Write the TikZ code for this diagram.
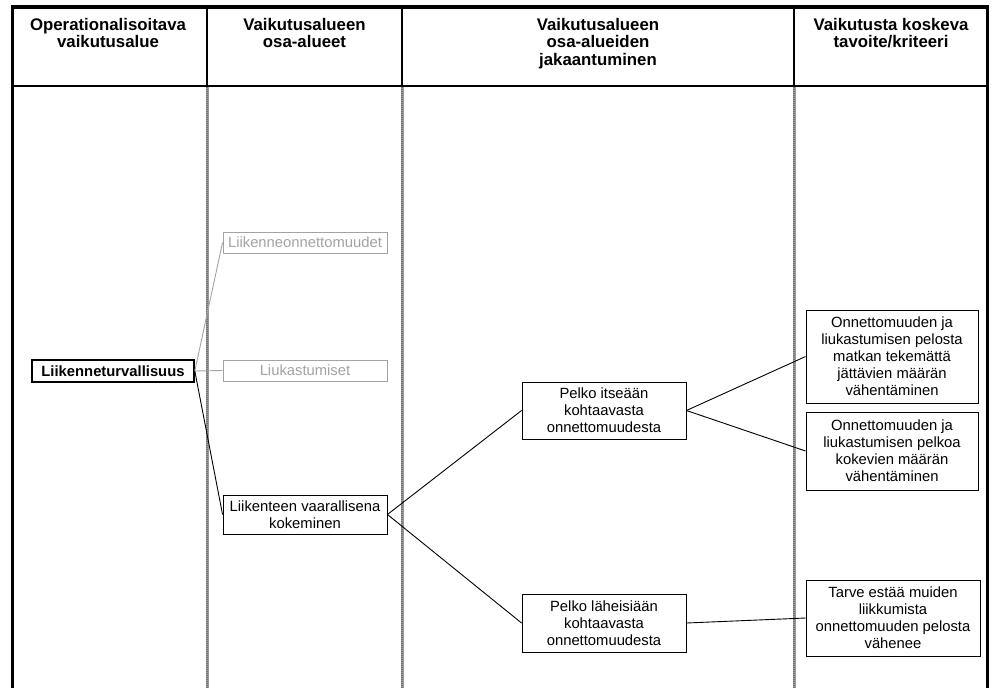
\documentclass[tikz,border=0pt]{standalone}
\usepackage{fontspec}
\setmainfont{Liberation Sans}
\definecolor{dimgray}{gray}{0.64}
\definecolor{rulegray}{gray}{0.6}
\definecolor{ruledark}{gray}{0.45}
\begin{document}
\begin{tikzpicture}[x=1pt,y=-1pt,
  hdr/.style={anchor=north, inner sep=0pt, align=center,
    font=\fontsize{16.8}{17.5}\selectfont\bfseries},
  box/.style={draw=black, line width=0.9pt, fill=white, align=center,
    inner sep=2pt, font=\fontsize{14.8}{17}\selectfont},
  rootbox/.style={box, line width=1.6pt, font=\fontsize{14.8}{17}\selectfont\bfseries},
  dimbox/.style={box, draw=dimgray, text=dimgray},
  link/.style={line width=0.9pt, black},
  dimlink/.style={link, draw=dimgray},
  outer/.style={line width=3.6pt, black, line join=miter},
  headrule/.style={line width=1.4pt, black},
  colrule/.style={line width=3pt, rulegray},
  colgrain/.style={line width=1.2pt, ruledark, dash pattern=on 0.8pt off 1.2pt}
]
\useasboundingbox (0,0) rectangle (992,688);

% table frame and column rules (grey rule with a fine grain on top)
\foreach \cx in {207,402,794} {
  \draw[colrule] (\cx,87) -- (\cx,688);
  \draw[colgrain] (\cx,87) -- (\cx,688);
  \draw[headrule] (\cx,7) -- (\cx,86);
}
\draw[headrule] (12.5,86) -- (987.5,86);
\draw[outer] (12.5,688) -- (12.5,7) -- (987.5,7) -- (987.5,688);

% column headings
\node[hdr] (h1) at (108,18) {Operationalisoitava\\vaikutusalue};
\node[hdr] (h2) at (304.5,18) {Vaikutusalueen\\osa-alueet};
\node[hdr] (h3) at (598,18) {Vaikutusalueen\\osa-alueiden\\jakaantuminen};
\node[hdr] (h4) at (891,18) {Vaikutusta koskeva\\tavoite/kriteeri};

% boxes
\node[rootbox, minimum width=162pt, minimum height=22pt] (lt) at (113,371) {Liikenneturvallisuus};
\node[dimbox, minimum width=164pt, minimum height=21pt] (lo) at (305,242.5) {Liikenneonnettomuudet};
\node[dimbox, minimum width=164pt, minimum height=21pt] (lu) at (305,370.5) {Liukastumiset};
\node[box, minimum width=164pt, minimum height=39pt] (lv) at (305,514.5) {Liikenteen vaarallisena\\kokeminen};
\node[box, minimum width=164pt, minimum height=57pt] (pi) at (604,410.5) {Pelko itseään\\kohtaavasta\\onnettomuudesta};
\node[box, minimum width=164pt, minimum height=58pt] (pl) at (604,623) {Pelko läheisiään\\kohtaavasta\\onnettomuudesta};
\node[box, minimum width=172pt, minimum height=93pt] (o1) at (892,356.5) {Onnettomuuden ja\\liukastumisen pelosta\\matkan tekemättä\\jättävien määrän\\vähentäminen};
\node[box, minimum width=172pt, minimum height=78pt] (o2) at (892,451) {Onnettomuuden ja\\liukastumisen pelkoa\\kokevien määrän\\vähentäminen};
\node[box, minimum width=174pt, minimum height=76pt] (ta) at (893,618) {Tarve estää muiden\\liikkumista\\onnettomuuden pelosta\\vähenee};

% connectors
\draw[dimlink] (lt.east) -- (lo.west);
\draw[dimlink] (lt.east) -- (lu.west);
\draw[link] (lt.east) -- (lv.west);
\draw[link] (lv.east) -- (pi.west);
\draw[link] (lv.east) -- (pl.west);
\draw[link] (pi.east) -- (o1.west);
\draw[link] (pi.east) -- (o2.west);
\draw[link] (pl.east) -- (ta.west);
\end{tikzpicture}
\end{document}
